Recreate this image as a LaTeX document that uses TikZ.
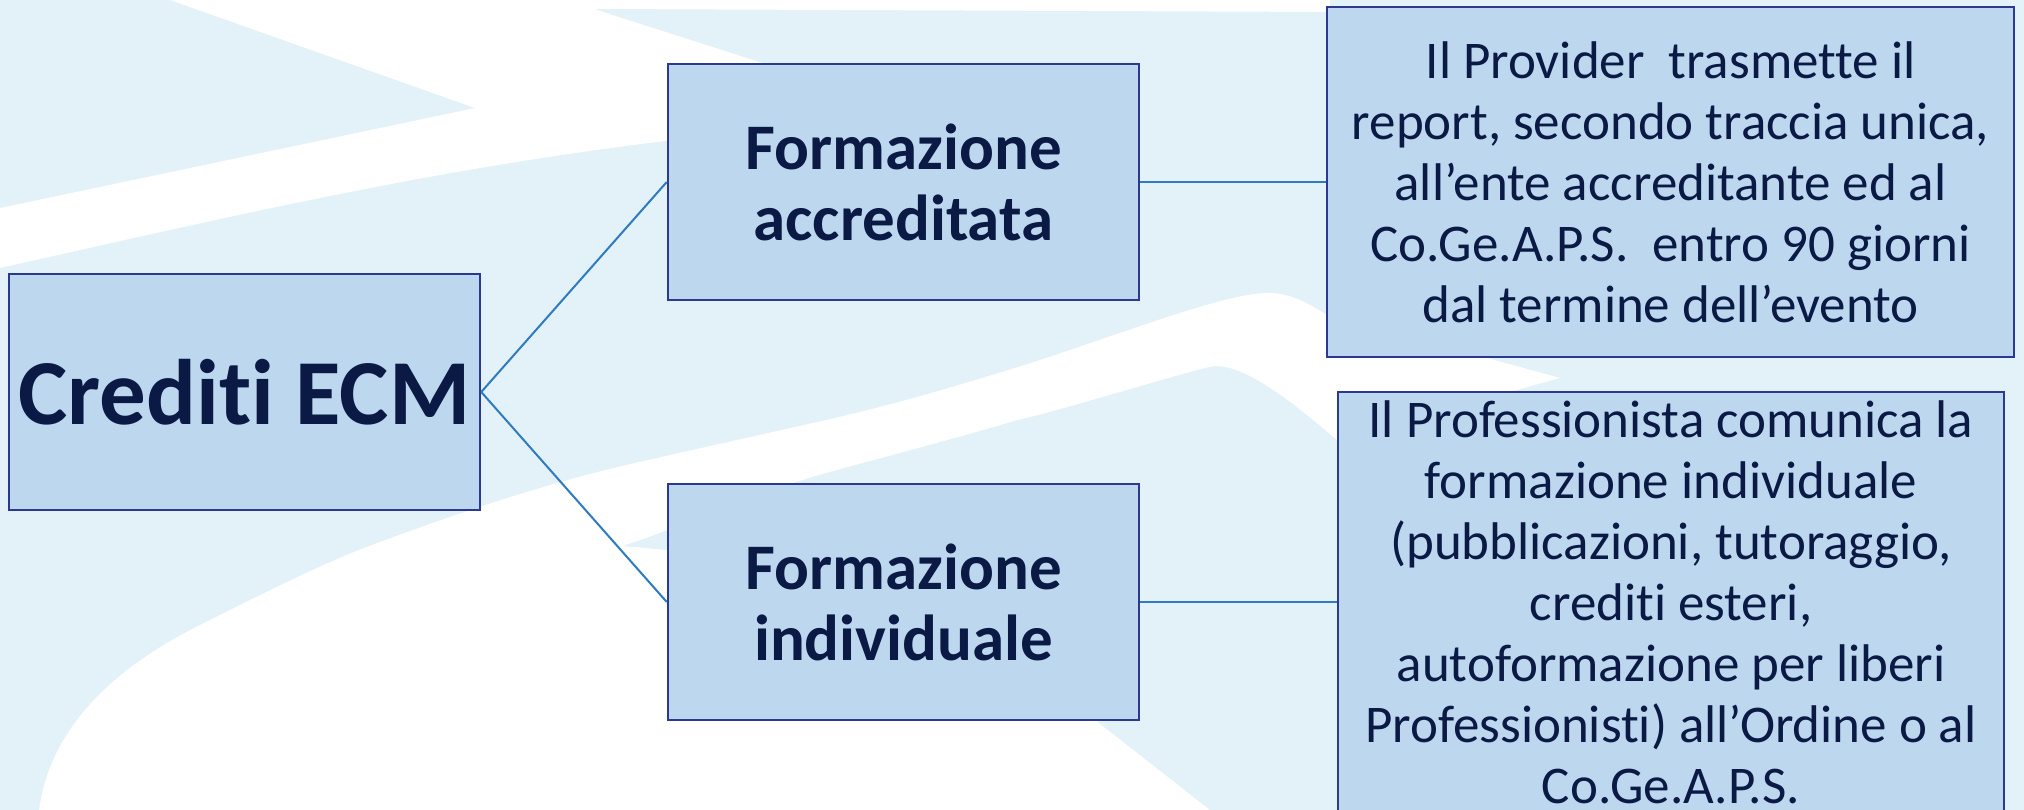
\documentclass[tikz,border=0pt]{standalone}
\usepackage{fontspec}
\setmainfont[Ligatures={NoCommon,NoRare,NoDiscretionary}]{Carlito}
\definecolor{bgpale}{HTML}{E3F1F9}
\definecolor{bgwhite}{HTML}{FFFFFF}
\definecolor{boxfill}{HTML}{BDD7EE}
\definecolor{boxline}{HTML}{2B3990}
\definecolor{txt}{HTML}{0A1A45}
\definecolor{conn}{HTML}{2E7BC0}
\tikzset{
  box/.style={rectangle, draw=boxline, fill=boxfill, line width=2.5pt, inner sep=0pt, align=center, text=txt},
  bigbox/.style={box, font=\bfseries\fontsize{93}{110}\selectfont},
  midbox/.style={box, font=\bfseries\fontsize{65}{71}\selectfont},
  txtbox/.style={box, font=\fontsize{53}{61}\selectfont},
  link/.style={draw=conn, line width=2pt}
}
\begin{document}
\begin{tikzpicture}[x=1pt,y=-1pt]
\useasboundingbox (0,0) rectangle (2024,810);
\clip (0,0) rectangle (2024,810);
% background
\fill[bgpale] (0,0) rectangle (2024,810);
\fill[bgwhite] (170,0) -- (475,108) -- (0,208) -- (0,268)
  .. controls (250,212) and (450,165) .. (700,137) -- (800,125) -- (800,75)
  -- (700,43) -- (594,9) -- (1330,12) -- (1330,0) -- cycle;
\fill[bgwhite] (39,810) .. controls (50,730) and (110,670) .. (200,625)
  .. controls (280,585) and (330,560) .. (380,542)
  .. controls (480,505) and (560,480) .. (635,463)
  .. controls (700,448) and (760,435) .. (826,420)
  .. controls (900,403) and (960,385) .. (1018,367)
  .. controls (1120,335) and (1230,290) .. (1273,293)
  .. controls (1295,295) and (1310,305) .. (1324,313)
  -- (1560,378) -- (1337,440)
  .. controls (1290,400) and (1240,360) .. (1209,367)
  .. controls (1140,385) and (1080,405) .. (1018,420)
  .. controls (950,440) and (880,458) .. (826,473)
  .. controls (760,492) and (700,515) .. (667,530)
  .. controls (650,537) and (635,542) .. (622,546)
  .. controls (800,560) and (950,600) .. (1012,638)
  .. controls (1060,668) and (1080,700) .. (1100,724)
  -- (1210,810) -- cycle;
% nodes
\node[bigbox, minimum width=471pt, minimum height=236pt] (ecm) at (244.5,392) {Crediti ECM};
\node[midbox, minimum width=471pt, minimum height=236pt] (acc) at (903.5,182) {Formazione\\accreditata};
\node[midbox, minimum width=471pt, minimum height=236pt] (ind) at (903.5,602) {Formazione\\individuale};
\node[txtbox, minimum width=687pt, minimum height=350pt] (prov) at (1670.5,182)
  {Il Provider\ \ trasmette il\\report, secondo traccia unica,\\all’ente accreditante ed al\\Co.Ge.A.P.S.\ \ entro 90 giorni\\dal termine dell’evento};
\node[txtbox, minimum width=666pt, minimum height=420pt] (prof) at (1671,602)
  {Il Professionista comunica la\\formazione individuale\\(pubblicazioni, tutoraggio,\\crediti esteri,\\autoformazione per liberi\\Professionisti) all’Ordine o al\\Co.Ge.A.P.S.};
% connectors
\draw[link] (ecm.east) -- (acc.west);
\draw[link] (ecm.east) -- (ind.west);
\draw[link] (acc.east) -- (prov.west);
\draw[link] (ind.east) -- (prof.west);
\end{tikzpicture}
\end{document}
